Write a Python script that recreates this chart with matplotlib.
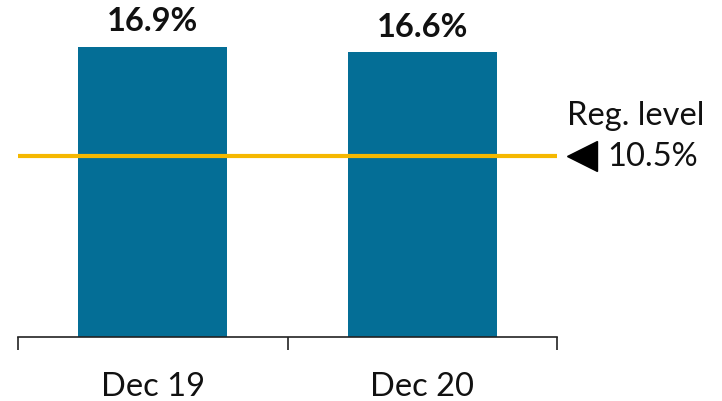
import matplotlib
matplotlib.use("Agg")
import matplotlib.pyplot as plt
import matplotlib.transforms as mtransforms

# ── DATA ──────────────────────────────────────────────
periods = ["Dec 19", "Dec 20"]
ratios = [16.9, 16.6]
reg_level = 10.5

BAR = '#046e96'
LINE = '#f5b800'
FS = 23.5

plt.rcParams['font.family'] = ['Lato', 'DejaVu Sans']

fig = plt.figure(figsize=(7.22, 4.02), dpi=100, facecolor='white')
ax = fig.add_axes([18/722, 64.5/402, 539/722, 337.5/402])

x = list(range(len(periods)))
ax.bar(x, ratios, width=0.553, color=BAR, edgecolor='none', zorder=2)
ax.axhline(reg_level, color=LINE, lw=3, zorder=3)

for xi, v in zip(x, ratios):
    ax.text(xi, v + 0.95, f"{v:.1f}%", ha='center', va='baseline',
            fontsize=FS, fontweight='bold', color='#111111')

ax.set_xlim(-0.5, len(periods) - 0.5)
ax.set_ylim(0, 19.68)

# category boundaries as major ticks, labels centred as minor ticks
ax.set_xticks([i - 0.5 for i in range(len(periods) + 1)])
ax.set_xticklabels([])
ax.set_xticks(x, minor=True)
ax.set_xticklabels(periods, minor=True, fontsize=FS, color='#111111')
ax.tick_params(axis='x', which='major', direction='out', length=9, width=1.2, color='#222222')
ax.tick_params(axis='x', which='minor', length=0, pad=25)
ax.set_yticks([])

for s in ['top', 'right', 'left']:
    ax.spines[s].set_visible(False)
ax.spines['bottom'].set_color('#222222')
ax.spines['bottom'].set_linewidth(1.2)

# regulatory level annotation on the right
trans = mtransforms.blended_transform_factory(ax.transAxes, ax.transData)
ax.plot([1.047], [reg_level], marker='<', markersize=21, color='black',
        transform=trans, clip_on=False)
ax.text(1.094, reg_level, f"{reg_level}%", transform=trans, ha='left', va='center',
        fontsize=FS, color='#111111')
ax.text(1.018, reg_level + 2.4, "Reg. level", transform=trans, ha='left', va='center',
        fontsize=FS, color='#111111')

plt.savefig("out.png", dpi=100, facecolor='white')
